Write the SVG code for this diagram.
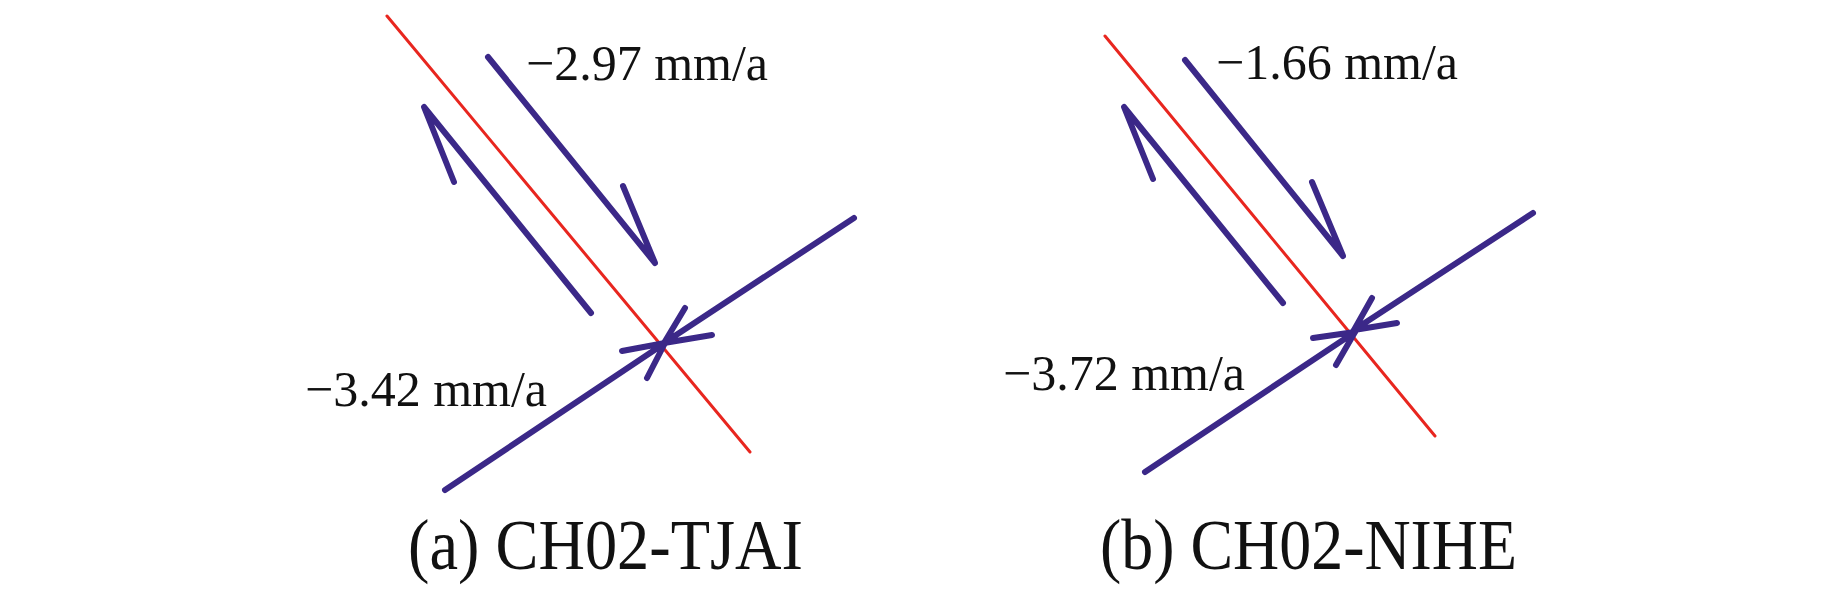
<svg xmlns="http://www.w3.org/2000/svg" width="1843" height="591" viewBox="0 0 1843 591">
<style>
.fault{stroke:#e8261f;stroke-width:3;fill:none;stroke-linecap:round}
.vec{stroke:#3b2888;stroke-width:6;fill:none;stroke-linecap:round;stroke-linejoin:round}
.lbl{font-family:"Liberation Serif","Times New Roman",serif;font-size:50px;fill:#111}
.cap{font-family:"Liberation Serif","Times New Roman",serif;font-size:72px;fill:#111}
</style>
<rect width="1843" height="591" fill="#ffffff"/>
<g id="panel-a">
  <g id="fault-a"><line class="fault" x1="387" y1="16" x2="750" y2="452"/></g>
  <g id="connectors-a">
    <path class="vec" d="M488,57 L655,263 L623,186"/>
    <path class="vec" d="M591,313 L424,107 L454,182"/>
    <path class="vec" d="M854,218 L664,343 M685,308 L664,343 L712,335"/>
    <path class="vec" d="M445,490 L665,343 M622,351 L665,343 L647,378"/>
  </g>
  <g id="label-a1"><text class="lbl" x="526" y="80">−2.97 mm/a</text></g>
  <g id="label-a2"><text class="lbl" x="305" y="406">−3.42 mm/a</text></g>
  <g id="caption-a"><text class="cap" x="408" y="569" textLength="395" lengthAdjust="spacingAndGlyphs">(a) CH02-TJAI</text></g>
</g>
<g id="panel-b">
  <g id="fault-b"><line class="fault" x1="1105" y1="36" x2="1435" y2="436"/></g>
  <g id="connectors-b">
    <path class="vec" d="M1185,60 L1343,256 L1312,182"/>
    <path class="vec" d="M1283,303 L1124,107 L1153,179"/>
    <path class="vec" d="M1533,213 L1354,330 M1372,298 L1354,330 L1397,323"/>
    <path class="vec" d="M1145,472 L1355,332 M1313,338 L1355,332 L1336,365"/>
  </g>
  <g id="label-b1"><text class="lbl" x="1216" y="79">−1.66 mm/a</text></g>
  <g id="label-b2"><text class="lbl" x="1003" y="390">−3.72 mm/a</text></g>
  <g id="caption-b"><text class="cap" x="1100" y="569" textLength="417" lengthAdjust="spacingAndGlyphs">(b) CH02-NIHE</text></g>
</g>
</svg>
